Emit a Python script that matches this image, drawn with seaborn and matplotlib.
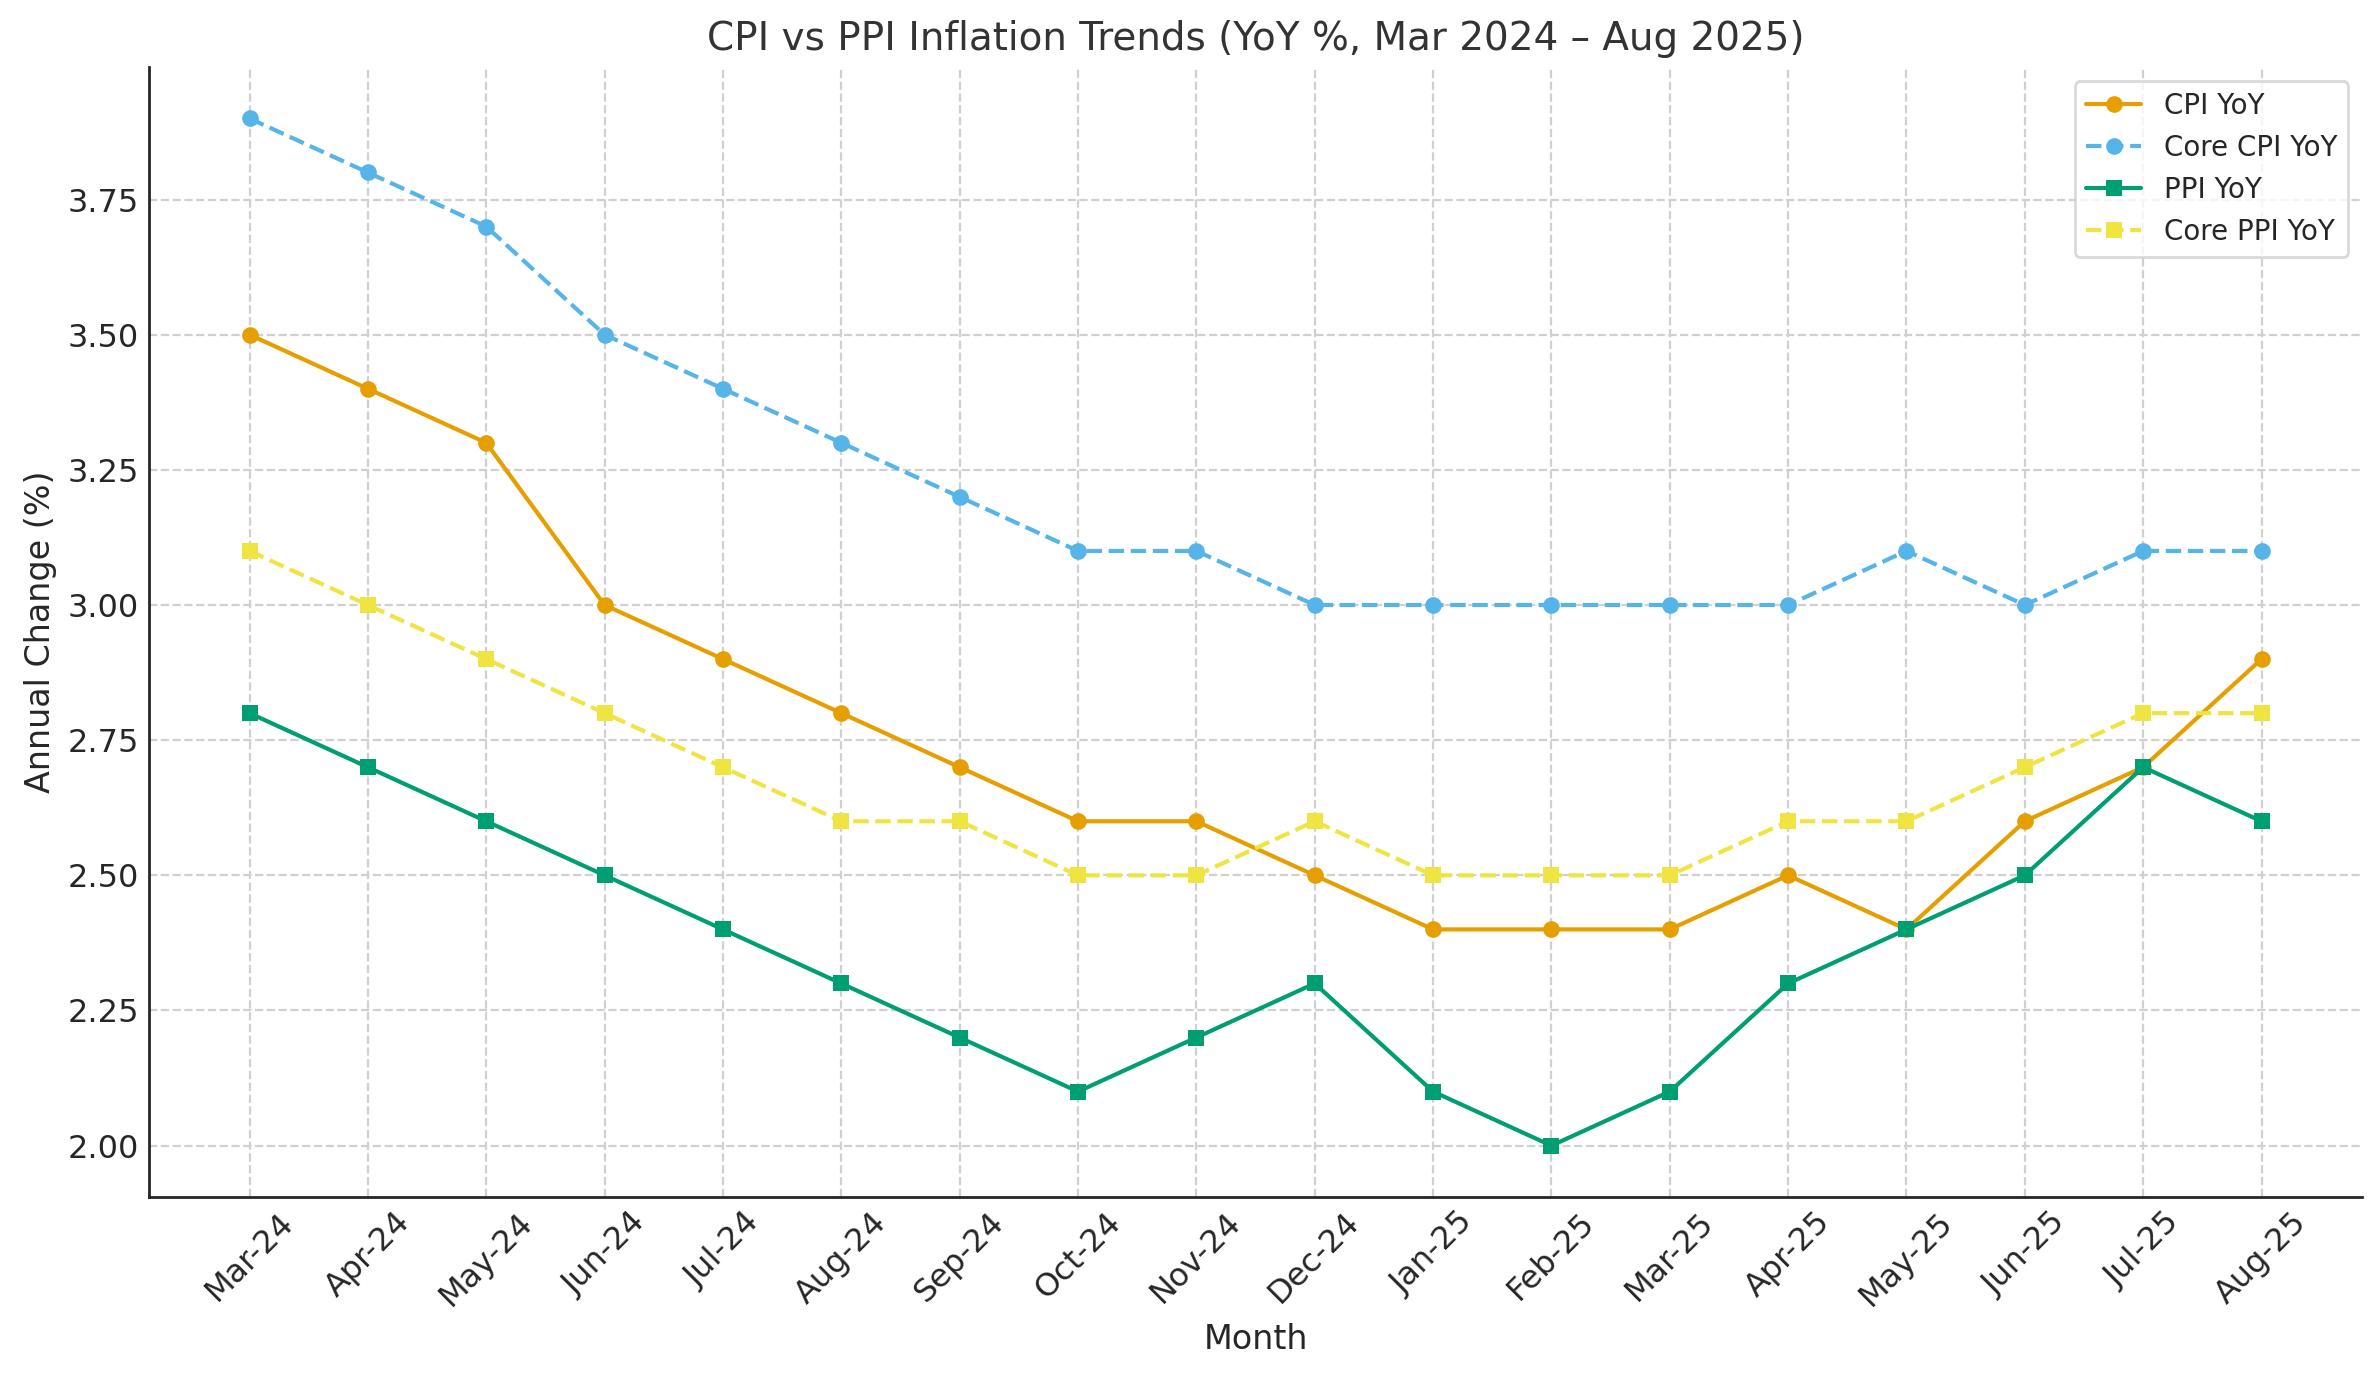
import numpy as np
import pandas as pd
import matplotlib
matplotlib.use("Agg")
import matplotlib.pyplot as plt
import seaborn as sns

# data
months = ["Mar-24", "Apr-24", "May-24", "Jun-24", "Jul-24", "Aug-24", "Sep-24",
          "Oct-24", "Nov-24", "Dec-24", "Jan-25", "Feb-25", "Mar-25", "Apr-25",
          "May-25", "Jun-25", "Jul-25", "Aug-25"]
cpi = [3.5, 3.4, 3.3, 3.0, 2.9, 2.8, 2.7, 2.6, 2.6, 2.5, 2.4, 2.4, 2.4, 2.5, 2.4, 2.6, 2.7, 2.9]
core_cpi = [3.9, 3.8, 3.7, 3.5, 3.4, 3.3, 3.2, 3.1, 3.1, 3.0, 3.0, 3.0, 3.0, 3.0, 3.1, 3.0, 3.1, 3.1]
ppi = [2.8, 2.7, 2.6, 2.5, 2.4, 2.3, 2.2, 2.1, 2.2, 2.3, 2.1, 2.0, 2.1, 2.3, 2.4, 2.5, 2.7, 2.6]
core_ppi = [3.1, 3.0, 2.9, 2.8, 2.7, 2.6, 2.6, 2.5, 2.5, 2.6, 2.5, 2.5, 2.5, 2.6, 2.6, 2.7, 2.8, 2.8]

series = {
    "CPI YoY": cpi,
    "Core CPI YoY": core_cpi,
    "PPI YoY": ppi,
    "Core PPI YoY": core_ppi,
}
palette = {"CPI YoY": "#E69F00", "Core CPI YoY": "#56B4E9",
           "PPI YoY": "#009E73", "Core PPI YoY": "#F0E442"}
markers = {"CPI YoY": "o", "Core CPI YoY": "o", "PPI YoY": "s", "Core PPI YoY": "s"}
dashes = {"CPI YoY": "", "Core CPI YoY": (3.7, 1.6), "PPI YoY": "", "Core PPI YoY": (3.7, 1.6)}

df = pd.DataFrame([
    {"idx": i, "Month": m, "Series": name, "Value": v}
    for name, vals in series.items()
    for i, (m, v) in enumerate(zip(months, vals))
])

sns.set_style("white")
plt.rcParams["font.family"] = ["DejaVu Sans"]
plt.rcParams["text.color"] = "#262626"

fig, ax = plt.subplots(figsize=(11.895, 6.9), dpi=200)
sns.lineplot(data=df, x="idx", y="Value", hue="Series", style="Series",
             palette=palette, markers=markers, dashes=dashes,
             markersize=6, linewidth=1.5, markeredgewidth=0, ax=ax)

ax.set_xticks(range(len(months)))
ax.set_xticklabels(months, rotation=45, fontsize=11.5)
ax.tick_params(axis="y", labelsize=11.5)
ax.yaxis.set_major_formatter(matplotlib.ticker.FormatStrFormatter("%.2f"))
ax.tick_params(direction="in", length=4.5, width=1, colors="#262626")

ax.set_title("CPI vs PPI Inflation Trends (YoY %, Mar 2024 – Aug 2025)",
             fontsize=14, color="#333333")
ax.set_xlabel("Month", fontsize=12)
ax.set_ylabel("Annual Change (%)", fontsize=12)

ax.grid(True, linestyle="--", color="#d0d0d0", linewidth=0.8)
sns.despine(ax=ax)
for s in ["left", "bottom"]:
    ax.spines[s].set_color("#262626")
    ax.spines[s].set_linewidth(1.0)

handles, labels = ax.get_legend_handles_labels()
ax.legend(handles, labels, loc="upper right", fontsize=10, frameon=True,
          edgecolor="#d0d0d0", fancybox=True)

fig.subplots_adjust(left=0.0626, right=0.9929, top=0.9514, bottom=0.1326)
fig.savefig("out.png", dpi=200)
